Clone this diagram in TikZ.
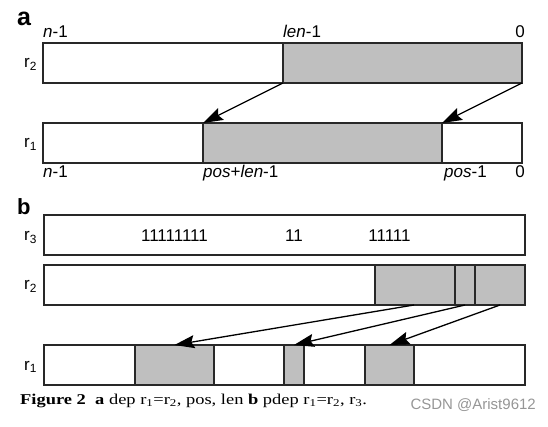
\documentclass[tikz,border=0pt]{standalone}
\usepackage{fontspec}
\setmainfont{Liberation Serif}
\setsansfont{Liberation Sans}
\newfontfamily\labelfont{Liberation Sans}
\newfontfamily\captionfont[FakeStretch=1.23]{Liberation Serif}
\usetikzlibrary{arrows.meta}
\definecolor{cellgray}{RGB}{191,191,191}
\definecolor{boxline}{RGB}{40,40,40}
\definecolor{markgray}{RGB}{150,150,150}
\tikzset{
  regbox/.style={draw=boxline, line width=1.4pt, fill=white},
  grayseg/.style={draw=boxline, line width=1.4pt, fill=cellgray},
  idxlabel/.style={inner sep=0pt, font=\labelfont\fontsize{17}{17}\selectfont},
  reglabel/.style={inner sep=0pt, anchor=base west, font=\labelfont\fontsize{17}{17}\selectfont},
  partlabel/.style={inner sep=0pt, anchor=base west, font=\sffamily\bfseries},
  movearrow/.style={line width=1.3pt, -{Stealth[length=20pt,width=13pt,inset=3pt]}},
}

\begin{document}
\begin{tikzpicture}[x=1pt, y=-1pt]
  \useasboundingbox (0,0) rectangle (548,427);
  % part a: dep
  \node[partlabel, font=\sffamily\bfseries\fontsize{25}{25}\selectfont] (part_a) at (17,26) {a};
  \draw[regbox] (43,43) rectangle (522,83);
  \draw[grayseg] (283,43) rectangle (522,83);
  \draw[regbox] (43,123) rectangle (522,163);
  \draw[grayseg] (203,123) rectangle (442,163);
  \node[reglabel] (a_r2) at (24,68) {r\textsubscript{2}};
  \node[reglabel] (a_r1) at (24,148) {r\textsubscript{1}};
  % index labels for part a
  \node[idxlabel, anchor=base west] (a_top_n) at (43,38) {\textit{n}-1};
  \node[idxlabel, anchor=base west] (a_top_len) at (283,38) {\textit{len}-1};
  \node[idxlabel, anchor=base east] (a_top_zero) at (525,38) {0};
  \node[idxlabel, anchor=base west] (a_bot_n) at (43,178) {\textit{n}-1};
  \node[idxlabel, anchor=base west] (a_bot_poslen) at (203,178) {\textit{pos}+\textit{len}-1};
  \node[idxlabel, anchor=base west] (a_bot_pos) at (444,178) {\textit{pos}-1};
  \node[idxlabel, anchor=base east] (a_bot_zero) at (525,178) {0};
  % arrows for part a
  \coordinate (a_src_left) at (283,83);
  \coordinate (a_src_right) at (522,83);
  \coordinate (a_dst_left) at (203,123);
  \coordinate (a_dst_right) at (442,123);
  \draw[movearrow] (a_src_left) -- (a_dst_left);
  \draw[movearrow] (a_src_right) -- (a_dst_right);
  % part b: pdep
  \node[partlabel, font=\sffamily\bfseries\fontsize{22}{22}\selectfont] (part_b) at (17,215) {b};
  \draw[regbox] (44,215) rectangle (525,255);
  \draw[regbox] (44,265) rectangle (525,305);
  \draw[grayseg] (375,265) rectangle (455,305);
  \draw[grayseg] (455,265) rectangle (475,305);
  \draw[grayseg] (475,265) rectangle (525,305);
  \draw[regbox] (44,345) rectangle (525,385);
  \draw[grayseg] (135,345) rectangle (214,385);
  \draw[grayseg] (284,345) rectangle (304,385);
  \draw[grayseg] (365,345) rectangle (414,385);
  \node[reglabel] (b_r3) at (24,241) {r\textsubscript{3}};
  \node[reglabel] (b_r2) at (24,290) {r\textsubscript{2}};
  \node[reglabel] (b_r1) at (24,370) {r\textsubscript{1}};
  % mask bits in r3
  \node[idxlabel, anchor=base] (b_mask0) at (174.5,242) {11111111};
  \node[idxlabel, anchor=base] (b_mask1) at (294,242) {11};
  \node[idxlabel, anchor=base] (b_mask2) at (389.5,242) {11111};
  % arrows for part b
  \coordinate (b_src0) at (414,305);
  \coordinate (b_src1) at (465,305);
  \coordinate (b_src2) at (500,305);
  \coordinate (b_dst0) at (174.5,345);
  \coordinate (b_dst1) at (294,345);
  \coordinate (b_dst2) at (389.5,345);
  \draw[movearrow] (b_src0) -- (b_dst0);
  \draw[movearrow] (b_src1) -- (b_dst1);
  \draw[movearrow] (b_src2) -- (b_dst2);
  % caption and watermark
  \node[inner sep=0pt, anchor=base west, font=\captionfont\fontsize{15}{15}\selectfont] (caption) at (20,404)
    {\textbf{Figure 2}\ \ \textbf{a} dep r\textsubscript{1}=r\textsubscript{2}, pos, len \textbf{b} pdep r\textsubscript{1}=r\textsubscript{2}, r\textsubscript{3}.};
  \node[inner sep=0pt, anchor=base east, text=markgray, font=\sffamily\fontsize{15}{15}\selectfont] (watermark) at (536,409) {CSDN @Arist9612};
\end{tikzpicture}
\end{document}
